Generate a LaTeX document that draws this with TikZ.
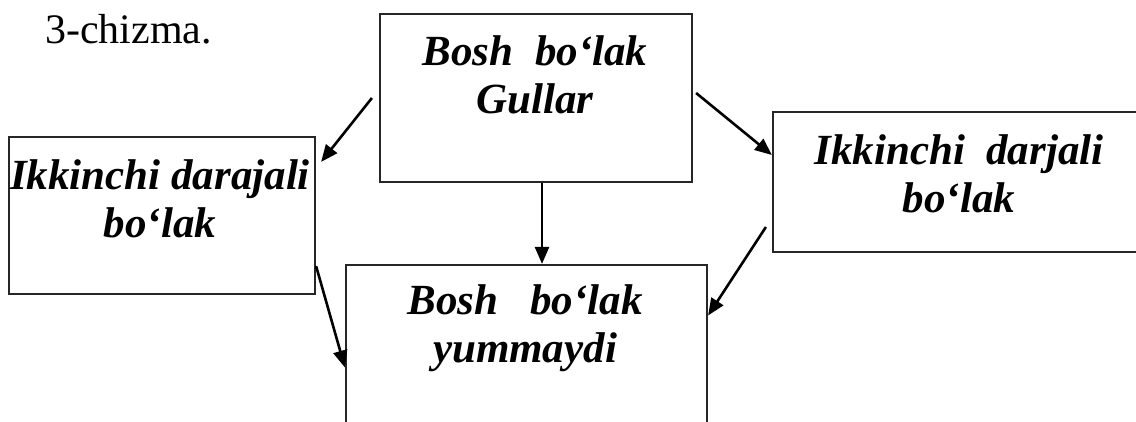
\documentclass[tikz,border=0pt]{standalone}
\usepackage{fontspec}
\setmainfont{Liberation Serif}
\usetikzlibrary{arrows.meta}
\tikzset{
    box/.style={draw=black!85, line width=2.2pt, inner sep=0pt},
    lbl/.style={font=\fontsize{43}{48}\selectfont\bfseries\itshape, align=center, inner sep=0pt, anchor=base},
    arr/.style={line width=2.6pt, -{Triangle[length=17pt,width=14pt]}}
}
\begin{document}
\begin{tikzpicture}[x=1pt,y=-1pt]
            \clip (0,0) rectangle (1136,421);
            \fill[white] (0,0) rectangle (1136,421);
            \node[anchor=base west, inner sep=0pt, font=\fontsize{42}{48}\selectfont] (title) at (45,43) {3-chizma.};
            % boxes
            \node[box, minimum width=312pt, minimum height=168pt] (gullar) at (536,98) {};
            \node[box, minimum width=306pt, minimum height=157pt] (left) at (162,215.5) {};
            \node[box, minimum width=367pt, minimum height=140pt] (right) at (956.5,182) {};
            \node[box, minimum width=361pt, minimum height=185pt] (bottom) at (526.5,357.5) {};
            % labels (base = last line)
            \node[lbl] (gullartext) at (535,113) {Bosh\ \ bo‘lak\\Gullar};
            \node[lbl] (lefttext) at (160,237) {Ikkinchi darajali\\bo‘lak};
            \node[lbl] (righttext) at (959,212) {Ikkinchi\ \ darjali\\bo‘lak};
            \node[lbl] (bottomtext) at (525,362) {Bosh\ \ \ bo‘lak\\yummaydi};
            % arrows
            \draw[arr] ([xshift=-7pt]gullar.west) -- ([shift={(5pt,-26pt)}]left.north east);
            \draw[arr] ([shift={(3pt,5pt)}]gullar.east) -- ([yshift=27pt]right.west);
            \draw[arr] ([xshift=6pt]gullar.south) -- ([xshift=6pt]gullar.south |- bottom.north);
            \draw[arr] ([yshift=29pt]left.south east) -- ([yshift=-10pt]bottom.west);
            \draw[arr] ([shift={(-6pt,-45pt)}]right.west) -- ([yshift=42pt]bottom.east);
        \end{tikzpicture}
\end{document}
